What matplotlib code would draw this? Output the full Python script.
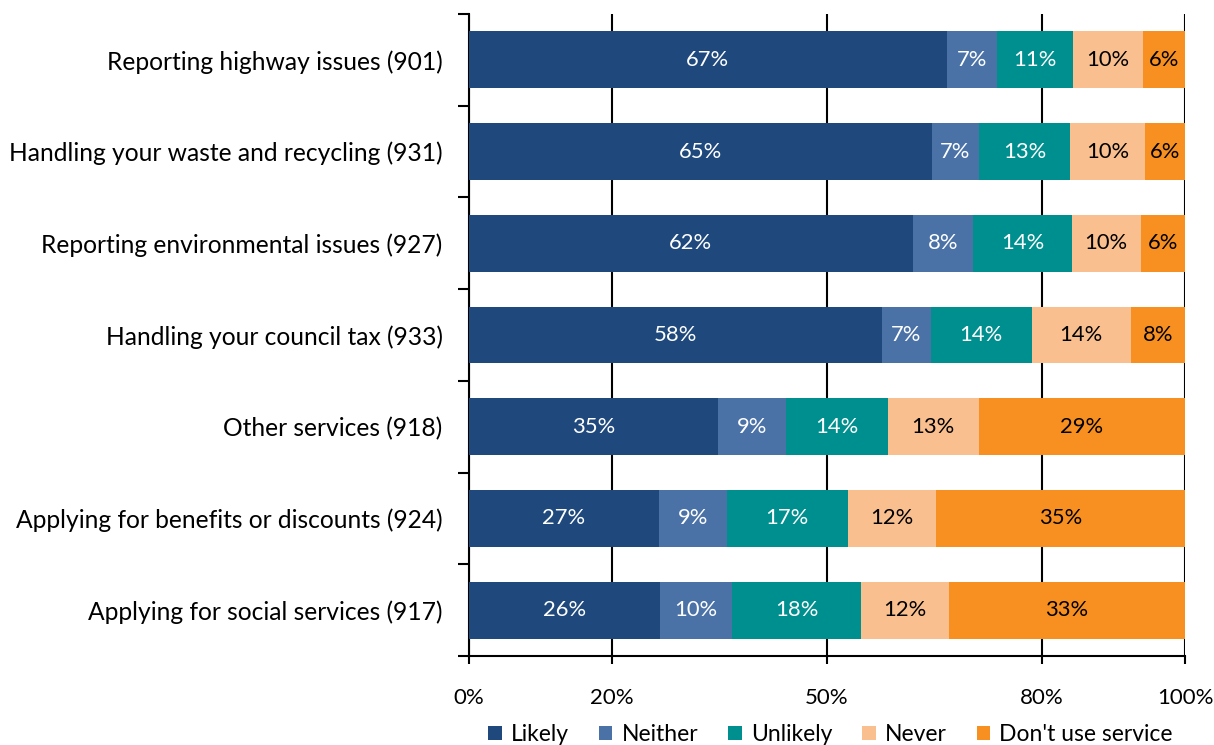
import matplotlib.pyplot as plt
import numpy as np
from matplotlib.ticker import FixedLocator

plt.rcParams['font.family'] = ['Lato', 'DejaVu Sans']

# services, top to bottom
services = ["Reporting highway issues (901)",
            "Handling your waste and recycling (931)",
            "Reporting environmental issues (927)",
            "Handling your council tax (933)",
            "Other services (918)",
            "Applying for benefits or discounts (924)",
            "Applying for social services (917)"]

series = ["Likely", "Neither", "Unlikely", "Never", "Don't use service"]

# segment widths (% of respondents)
likely = [66.7, 64.6, 62.0, 57.7, 34.8, 26.5, 26.7]
neither = [7.0, 6.7, 8.4, 6.8, 9.5, 9.5, 10.0]
unlikely = [10.6, 12.6, 13.8, 14.1, 14.2, 16.9, 18.1]
never = [9.8, 10.5, 9.6, 13.8, 12.7, 12.3, 12.2]
dont_use = [5.9, 5.6, 6.2, 7.6, 28.8, 34.8, 33.0]

# the printed labels
likely_lbl = [67, 65, 62, 58, 35, 27, 26]
neither_lbl = [7, 7, 8, 7, 9, 9, 10]
unlikely_lbl = [11, 13, 14, 14, 14, 17, 18]
never_lbl = [10, 10, 10, 14, 13, 12, 12]
dont_use_lbl = [6, 6, 6, 8, 29, 35, 33]

xticks = [0, 20, 50, 80, 100]

colors = ["#1F497D", "#4A72A7", "#008F8F", "#F9BF8F", "#F79020"]
text_colors = ["white", "white", "white", "black", "black"]

fig = plt.figure(figsize=(12.14, 7.45), dpi=100)
ax = fig.add_axes([0.3863, 0.1195, 0.5898, 0.8617])

y = np.arange(len(services))
left = np.zeros(len(services))
for vals, lbls, name, c, tc in zip([likely, neither, unlikely, never, dont_use],
                                   [likely_lbl, neither_lbl, unlikely_lbl, never_lbl, dont_use_lbl],
                                   series, colors, text_colors):
    vals = np.array(vals)
    ax.barh(y, vals, left=left, height=0.62, color=c, label=name, zorder=3)
    for yi, l, v, t in zip(y, left, vals, lbls):
        ax.text(l + v / 2, yi, f"{t}%", ha="center", va="center",
                color=tc, fontsize=15.8, zorder=4)
    left += vals

ax.set_xlim(0, 100)
ax.set_ylim(len(services) - 0.5, -0.5)

ax.set_xticks(xticks)
ax.set_xticklabels([f"{t}%" for t in xticks], fontsize=16)
ax.tick_params(axis="x", length=6, width=1.5, pad=17)
ax.xaxis.grid(True, color="black", linewidth=1.5, zorder=0)

ax.set_yticks(y)
ax.set_yticklabels(services, fontsize=17.7)
ax.yaxis.set_minor_locator(FixedLocator(np.arange(-0.5, len(services), 1)))
ax.tick_params(axis="y", which="major", length=0, pad=19)
ax.tick_params(axis="y", which="minor", length=8, width=1.5)

for s in ["top", "right"]:
    ax.spines[s].set_visible(False)
ax.spines["left"].set_linewidth(1.5)
ax.spines["bottom"].set_linewidth(1.5)

fig.legend(loc="center", bbox_to_anchor=(0.684, 0.014), ncol=5, frameon=False,
           fontsize=16.5, handlelength=0.6, handleheight=0.6, handletextpad=0.4,
           columnspacing=1.3)

fig.savefig("out.png", dpi=100)
